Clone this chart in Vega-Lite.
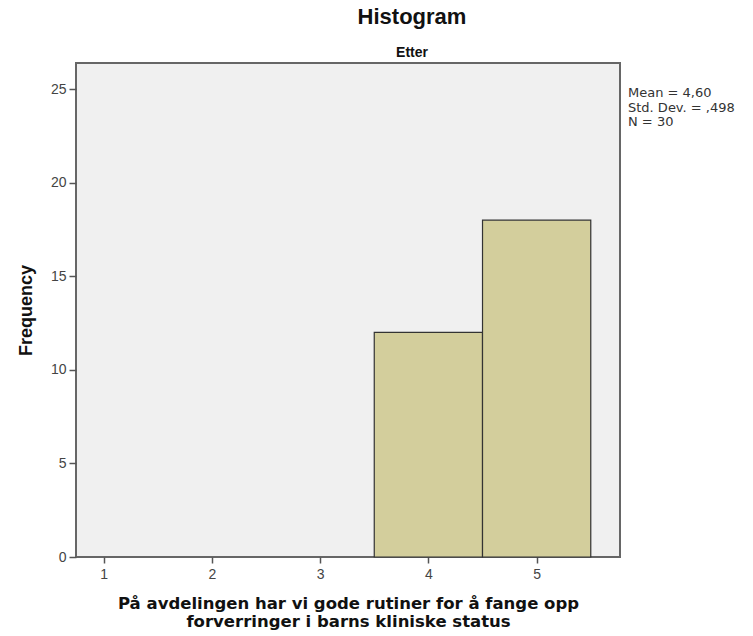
{
  "$schema": "https://vega.github.io/schema/vega-lite/v6.json",
  "width": 544,
  "height": 494,
  "autosize": {"type": "none"},
  "padding": {"left": 76, "top": 63, "right": 133, "bottom": 79},
  "background": "white",
  "config": {
    "view": {"fill": "#f0f0f0", "stroke": "#666666", "strokeWidth": 2},
    "font": "Liberation Sans"
  },
  "title": {
    "text": "Histogram",
    "subtitle": "Etter",
    "anchor": "middle",
    "dx": 64,
    "font": "Liberation Sans",
    "fontSize": 22,
    "fontWeight": "bold",
    "color": "#111111",
    "subtitleFont": "Liberation Sans",
    "subtitleFontSize": 14,
    "subtitleFontWeight": "bold",
    "subtitleColor": "#111111",
    "subtitlePadding": 17,
    "offset": 2
  },
  "datasets": {
    "bins": [
      {"bin_start": 3.5, "bin_end": 4.5, "count": 12},
      {"bin_start": 4.5, "bin_end": 5.5, "count": 18}
    ],
    "stats": [
      {"label": "Mean = 4,60\nStd. Dev. = ,498\nN = 30"}
    ]
  },
  "layer": [
    {
      "data": {"name": "bins"},
      "mark": {"type": "bar", "fill": "#d3ce9c", "stroke": "#333333", "strokeWidth": 1.2},
      "encoding": {
        "x": {
          "field": "bin_start",
          "type": "quantitative",
          "scale": {"domain": [0.745, 5.77], "nice": false, "zero": false},
          "axis": {
            "values": [1, 2, 3, 4, 5],
            "format": "d",
            "title": ["På avdelingen har vi gode rutiner for å fange opp", "forverringer i barns kliniske status"],
            "titleFont": "DejaVu Sans",
            "titleFontSize": 16.5,
            "titleFontWeight": "bold",
            "titleColor": "#111111",
            "titleLineHeight": 18,
            "titlePadding": 14,
            "labelFont": "Liberation Sans",
            "labelFontSize": 14,
            "labelColor": "#444444",
            "labelPadding": 4,
            "tickSize": 6,
            "tickColor": "#555555",
            "tickWidth": 1.5,
            "domain": false,
            "grid": false
          }
        },
        "x2": {"field": "bin_end"},
        "y": {
          "field": "count",
          "type": "quantitative",
          "scale": {"domain": [0, 26.4], "nice": false},
          "axis": {
            "values": [0, 5, 10, 15, 20, 25],
            "format": "d",
            "title": "Frequency",
            "titleFont": "Liberation Sans",
            "titleFontSize": 18,
            "titleFontWeight": "bold",
            "titleColor": "#111111",
            "titlePadding": 15,
            "labelFont": "Liberation Sans",
            "labelFontSize": 14,
            "labelColor": "#444444",
            "labelPadding": 3,
            "tickSize": 7,
            "tickColor": "#555555",
            "tickWidth": 1.5,
            "domain": false,
            "grid": false
          }
        },
        "y2": {"datum": 0}
      }
    },
    {
      "data": {"name": "stats"},
      "mark": {
        "type": "text",
        "align": "left",
        "baseline": "top",
        "lineBreak": "\n",
        "lineHeight": 14.5,
        "fontSize": 13,
        "font": "DejaVu Sans",
        "color": "#333333",
        "dx": 8,
        "clip": false
      },
      "encoding": {
        "x": {"datum": 5.77},
        "y": {"datum": 25.1},
        "text": {"field": "label"}
      }
    }
  ]
}
